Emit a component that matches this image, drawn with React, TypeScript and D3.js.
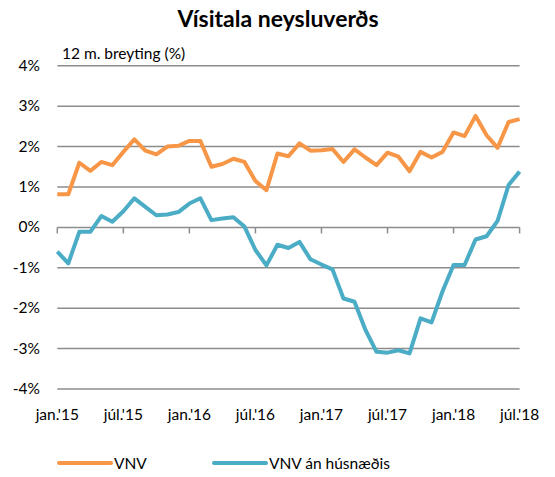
import React from "react";
import * as d3 from "d3";

const months: string[] = [];
for (let y = 2015; y <= 2018; y++) {
  for (let m = 0; m < 12; m++) {
    if (y === 2018 && m > 6) break;
    months.push(`${y}-${String(m + 1).padStart(2, "0")}`);
  }
}

const vnv = [
  0.82, 0.82, 1.6, 1.4, 1.62, 1.54, 1.87, 2.18, 1.9, 1.81, 2.0, 2.02,
  2.14, 2.14, 1.5, 1.57, 1.7, 1.62, 1.15, 0.92, 1.83, 1.76, 2.08, 1.9,
  1.91, 1.94, 1.62, 1.93, 1.73, 1.54, 1.85, 1.75, 1.39, 1.87, 1.73, 1.87,
  2.35, 2.26, 2.76, 2.28, 1.97, 2.61, 2.68,
];

const vnvAnHusnaedis = [
  -0.6, -0.89, -0.11, -0.11, 0.28, 0.14, 0.4, 0.72, 0.51, 0.3, 0.32, 0.38,
  0.59, 0.72, 0.18, 0.22, 0.25, 0.02, -0.56, -0.94, -0.43, -0.51, -0.36, -0.79,
  -0.92, -1.04, -1.76, -1.84, -2.54, -3.08, -3.1, -3.04, -3.12, -2.25, -2.35, -1.58,
  -0.93, -0.93, -0.3, -0.22, 0.16, 1.05, 1.38,
];

const yTicks = [4, 3, 2, 1, 0, -1, -2, -3, -4];
const xTickLabels = ["jan.'15", "júl.'15", "jan.'16", "júl.'16", "jan.'17", "júl.'17", "jan.'18", "júl.'18"];

const seriesNames = ["VNV", "VNV án húsnæðis"];
const colors = ["#F79646", "#4BACC6"];

export default function App() {
  const W = 555, H = 477;
  const left = 57.3, right = 519.6;
  const x = d3.scaleLinear().domain([0, months.length - 1]).range([left, right]);
  const y = d3.scaleLinear().domain([-4, 4]).range([389, 65.8]);
  const line = d3.line<number>().x((_, i) => x(i)).y((d) => y(d));
  const font = "Lato, 'Open Sans', sans-serif";
  const tickIdx = xTickLabels.map((_, i) => i * 6);
  const fs = 15.5;

  return (
    <svg width={W} height={H} style={{ position: "absolute", left: 0, top: 0, background: "#fff" }} fontFamily={font}>
      <text x={278} y={27} textAnchor="middle" fontSize={23} fontWeight="bold" fill="#000">
        Vísitala neysluverðs
      </text>
      <text x={62} y={59} fontSize={fs} fill="#000">12 m. breyting (%)</text>
      {yTicks.map((t) => (
        <g key={t}>
          <line x1={left} x2={right} y1={y(t)} y2={y(t)} stroke="#8c8c8c" strokeWidth={1.5} />
          <text x={40} y={y(t) + 5} textAnchor="end" fontSize={fs} fill="#000">
            {`${t}%`}
          </text>
        </g>
      ))}
      {tickIdx.map((i) => (
        <line key={i} x1={x(i)} x2={x(i)} y1={y(0)} y2={y(0) + 6} stroke="#8c8c8c" strokeWidth={1.5} />
      ))}
      {tickIdx.map((i, k) => (
        <text key={k} x={x(i)} y={420} textAnchor="middle" fontSize={fs} fill="#000">
          {xTickLabels[k]}
        </text>
      ))}
      <path d={line(vnv) || ""} fill="none" stroke={colors[0]} strokeWidth={4} strokeLinejoin="round" />
      <path d={line(vnvAnHusnaedis) || ""} fill="none" stroke={colors[1]} strokeWidth={4} strokeLinejoin="round" />
      {seriesNames.map((n, i) => {
        const lx = i === 0 ? 59 : 214;
        return (
          <g key={n}>
            <line x1={lx} x2={lx + 52} y1={463} y2={463} stroke={colors[i]} strokeWidth={4} strokeLinecap="round" />
            <text x={lx + 55} y={469} fontSize={fs} fill="#000">{n}</text>
          </g>
        );
      })}
    </svg>
  );
}
